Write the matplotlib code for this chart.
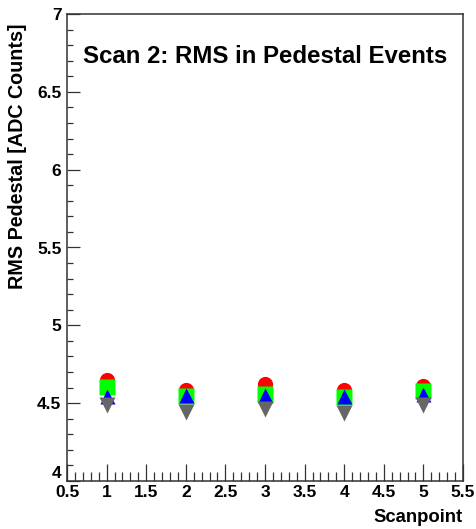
import matplotlib
matplotlib.use("Agg")
import matplotlib.pyplot as plt
from matplotlib.ticker import MultipleLocator

plt.rcParams['font.family'] = ['Liberation Sans', 'DejaVu Sans']
plt.rcParams['font.weight'] = 'bold'

scanpoints = [1, 2, 3, 4, 5]
rms_red = [4.65, 4.585, 4.623, 4.585, 4.61]
rms_green = [4.604, 4.549, 4.562, 4.54, 4.578]
rms_blue = [4.545, 4.55, 4.55, 4.543, 4.562]
rms_gray = [4.488, 4.446, 4.462, 4.434, 4.488]

title = "Scan 2: RMS in Pedestal Events"
xlabel = "Scanpoint"
ylabel = "RMS Pedestal [ADC Counts]"

fig = plt.figure(figsize=(4.76, 5.29), dpi=100)
ax = fig.add_axes([67/476, 48/529, 396/476, 467/529])

ms = 16 * 72 / 100
ax.plot(scanpoints, rms_red, 'o', color='#ff0000', ms=ms*0.95, mec='none', zorder=3)
ax.plot(scanpoints, rms_green, 's', color='#00ff00', ms=ms, mec='none', zorder=4)
ax.plot(scanpoints, rms_blue, '^', color='#0000ff', ms=15*72/100, mec='none', zorder=5)
ax.plot(scanpoints, rms_gray, 'v', color='#666666', ms=ms, mec='none', zorder=6)

ax.set_xlim(0.5, 5.5)
ax.set_ylim(4, 7)
ax.xaxis.set_major_locator(MultipleLocator(0.5))
ax.xaxis.set_minor_locator(MultipleLocator(0.1))
ax.yaxis.set_major_locator(MultipleLocator(0.5))
ax.yaxis.set_minor_locator(MultipleLocator(0.1))

ax.xaxis.set_major_formatter(matplotlib.ticker.FuncFormatter(lambda v, p: f"{v:g}"))
ax.yaxis.set_major_formatter(matplotlib.ticker.FuncFormatter(lambda v, p: f"{v:g}"))

dark = '#333333'
for s in ax.spines.values():
    s.set_color(dark)
    s.set_linewidth(1.1)

ax.tick_params(axis='x', which='major', direction='in', length=12, width=0.9,
               color=dark, labelsize=12.5, pad=3, top=False)
ax.tick_params(axis='x', which='minor', direction='in', length=6.5, width=0.9,
               color=dark, top=False)
ax.tick_params(axis='y', which='major', direction='in', length=9.4, width=0.9,
               color=dark, labelsize=12.5, pad=4, right=False)
ax.tick_params(axis='y', which='minor', direction='in', length=4.5, width=0.9,
               color=dark, right=False)

fig.canvas.draw()
for lab in ax.get_yticklabels():
    if lab.get_text() == '4':
        lab.set_verticalalignment('bottom')

ax.text(0.5, 0.91, title, transform=ax.transAxes, ha='center', va='center',
        fontsize=17.3, fontweight='bold')

fig.text(463/476, 12/529, xlabel, ha='right', va='center', fontsize=13.3, fontweight='bold')
fig.text(18/476, 1 - 156/529, ylabel, rotation=90,
         ha='center', va='center', fontsize=14.2, fontweight='bold')

fig.savefig('out.png', dpi=100, facecolor='white')
